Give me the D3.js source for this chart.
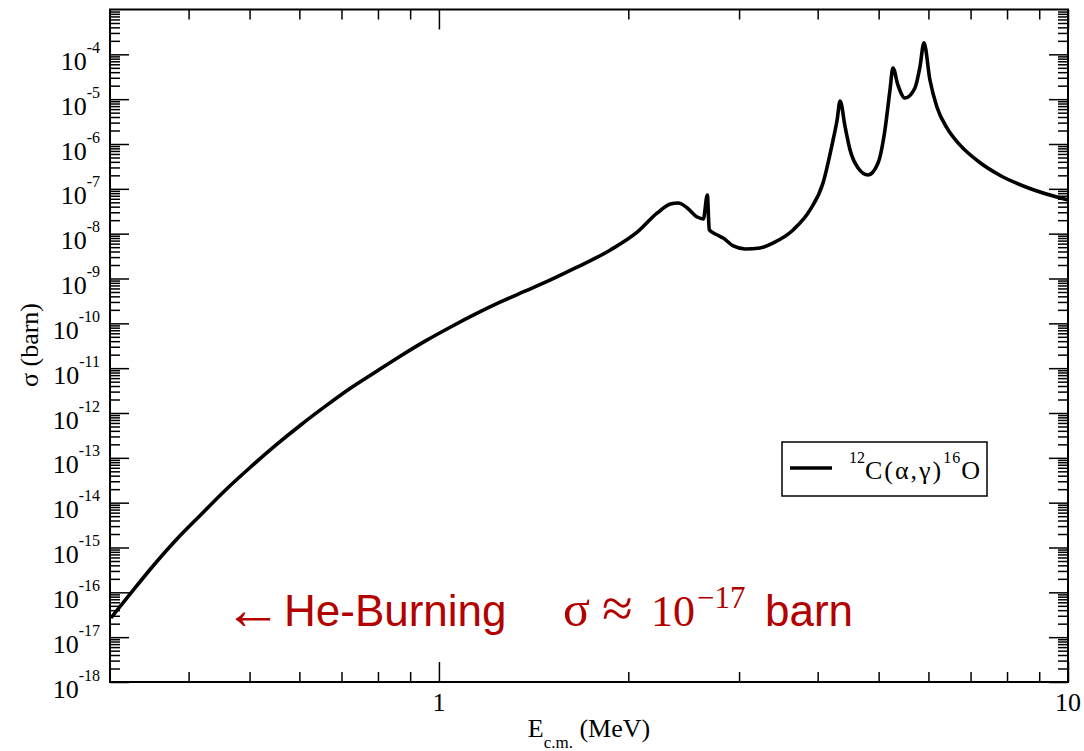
<!DOCTYPE html>
<html>
<head>
<meta charset="utf-8">
<script src="https://cdn.jsdelivr.net/npm/d3@7"></script>
<style>
  html, body { margin: 0; padding: 0; background: #fff; }
  svg { display: block; }
  text { font-family: "Liberation Serif", "Times New Roman", serif; }
</style>
</head>
<body>
<svg id="chart" width="1084" height="751"></svg>
<script>
// ---------- data ----------
const energy = [0.301, 0.324, 0.349, 0.382, 0.418, 0.458, 0.502, 0.551, 0.603, 0.661,
  0.724, 0.793, 0.869, 0.952, 1.044, 1.144, 1.253, 1.373, 1.504, 1.648,
  1.873, 2.068, 2.224, 2.333, 2.402, 2.482, 2.574, 2.632, 2.671, 2.690,
  2.770, 2.830, 2.937, 3.068, 3.240, 3.400, 3.656, 3.890, 4.079, 4.232,
  4.295, 4.342, 4.423, 4.504, 4.638, 4.810, 4.989, 5.117, 5.212, 5.269,
  5.366, 5.505, 5.711, 5.816, 5.902, 6.033, 6.189, 6.420, 6.731, 7.241,
  7.791, 8.695, 10.0];
const sigma = [2.68e-17, 9.7e-17, 3.49e-16, 1.47e-15, 5.31e-15, 1.92e-14, 6.25e-14, 1.94e-13, 5.41e-13, 1.44e-12,
  3.61e-12, 8.22e-12, 1.87e-11, 4.05e-11, 8.30e-11, 1.62e-10, 3.00e-10, 5.27e-10, 9.27e-10, 1.72e-9,
  4.32e-9, 1.09e-8, 2.90e-8, 4.60e-8, 4.84e-8, 3.74e-8, 2.35e-8, 2.13e-8, 7.29e-8, 1.21e-8,
  9.35e-9, 8.02e-9, 5.32e-9, 4.56e-9, 4.80e-9, 6.21e-9, 1.21e-8, 3.38e-8, 1.35e-7, 1.23e-6,
  3.43e-6, 9.12e-6, 2.40e-6, 7.36e-7, 2.92e-7, 2.04e-7, 3.78e-7, 2.06e-6, 1.60e-5, 4.97e-5,
  2.07e-5, 1.06e-5, 1.78e-5, 5.22e-5, 1.80e-4, 2.68e-5, 6.70e-6, 2.28e-6, 9.54e-7, 3.87e-7,
  2.01e-7, 1.02e-7, 5.65e-8];

const xDomain = [0.3, 10];
const yDomain = [1e-18, 1e-3];
const xMajorTicks = [1, 10];
const xMajorLabels = ["1", "10"];
const xMinorTicks = [0.4, 0.5, 0.6, 0.7, 0.8, 0.9, 2, 3, 4, 5, 6, 7, 8, 9];
const yExponents = [-18, -17, -16, -15, -14, -13, -12, -11, -10, -9, -8, -7, -6, -5, -4];
const yMinorMantissas = [2, 3, 4, 5, 6, 7, 8, 9];
const yMinorDecades = [-18, -17, -16, -15, -14, -13, -12, -11, -10, -9, -8, -7, -6, -5, -4];
const legendLabel = { pre: "12", main: "C(α,γ)", pre2: "16", end: "O" };

// ---------- layout ----------
const L = 110, R = 1068, T = 9.5, B = 682;
const svg = d3.select("#chart");
const x = d3.scaleLog().domain(xDomain).range([L, R]);
const y = d3.scaleLog().domain(yDomain).range([B, T]);

const yMajorVals = yExponents.map(p => Math.pow(10, p));
const yMinorVals = [];
yMinorDecades.forEach(p => yMinorMantissas.forEach(m => yMinorVals.push(m * Math.pow(10, p))));

function styleAxis(g) {
  g.select(".domain").remove();
  g.selectAll(".tick line").attr("stroke", "#000").attr("stroke-width", 1.5);
  g.selectAll(".tick text").remove();
}

// bottom / top
svg.append("g").attr("transform", `translate(0,${B})`)
  .call(d3.axisBottom(x).tickValues(xMajorTicks).tickSize(-20).tickFormat("")).call(styleAxis);
svg.append("g").attr("transform", `translate(0,${B})`)
  .call(d3.axisBottom(x).tickValues(xMinorTicks).tickSize(-10).tickFormat("")).call(styleAxis);
svg.append("g").attr("transform", `translate(0,${T})`)
  .call(d3.axisTop(x).tickValues(xMajorTicks).tickSize(-20).tickFormat("")).call(styleAxis);
svg.append("g").attr("transform", `translate(0,${T})`)
  .call(d3.axisTop(x).tickValues(xMinorTicks).tickSize(-10).tickFormat("")).call(styleAxis);
// left / right
svg.append("g").attr("transform", `translate(${L},0)`)
  .call(d3.axisLeft(y).tickValues(yMajorVals).tickSize(-19).tickFormat("")).call(styleAxis);
svg.append("g").attr("transform", `translate(${L},0)`)
  .call(d3.axisLeft(y).tickValues(yMinorVals).tickSize(-10).tickFormat("")).call(styleAxis);
svg.append("g").attr("transform", `translate(${R},0)`)
  .call(d3.axisRight(y).tickValues(yMajorVals).tickSize(-19).tickFormat("")).call(styleAxis);
svg.append("g").attr("transform", `translate(${R},0)`)
  .call(d3.axisRight(y).tickValues(yMinorVals).tickSize(-10).tickFormat("")).call(styleAxis);

// frame
svg.append("rect").attr("x", L).attr("y", T).attr("width", R - L).attr("height", B - T)
  .attr("fill", "none").attr("stroke", "#000").attr("stroke-width", 2);

// y tick labels
yExponents.forEach((p, i) => {
  const t = svg.append("text").attr("x", 100).attr("y", y(yMajorVals[i]) + 15.5)
    .attr("text-anchor", "end").attr("font-size", 26).attr("fill", "#000");
  t.append("tspan").text("10");
  t.append("tspan").attr("font-size", 16).attr("dy", -17).text("-" + Math.abs(p));
});
// x tick labels
xMajorTicks.forEach((v, i) => {
  svg.append("text").attr("x", x(v)).attr("y", 711).attr("text-anchor", "middle")
    .attr("font-size", 26).text(xMajorLabels[i]);
});

// axis titles
const xt = svg.append("text").attr("x", 589).attr("y", 737).attr("text-anchor", "middle").attr("font-size", 26);
xt.append("tspan").text("E");
xt.append("tspan").attr("font-size", 17).attr("dy", 11).text("c.m.");
xt.append("tspan").attr("dy", -11).text(" (MeV)");
svg.append("text").attr("transform", `translate(38,345) rotate(-90)`).attr("text-anchor", "middle")
  .attr("font-size", 26).text("σ (barn)");

// curve
svg.append("clipPath").attr("id", "clip").append("rect")
  .attr("x", L).attr("y", T).attr("width", R - L).attr("height", B - T);
const pts = energy.map((e, i) => [e, sigma[i]]);
const line = d3.line().x(d => x(d[0])).y(d => y(d[1])).curve(d3.curveMonotoneX);
svg.append("path").datum(pts).attr("d", line).attr("fill", "none")
  .attr("stroke", "#000").attr("stroke-width", 3.6).attr("stroke-linejoin", "round")
  .attr("clip-path", "url(#clip)");

// legend
svg.append("rect").attr("x", 782).attr("y", 442).attr("width", 205).attr("height", 54)
  .attr("fill", "#fff").attr("stroke", "#000").attr("stroke-width", 1.5);
svg.append("line").attr("x1", 790).attr("x2", 832).attr("y1", 468).attr("y2", 468)
  .attr("stroke", "#000").attr("stroke-width", 3.5);
const lt = svg.append("text").attr("x", 849).attr("y", 479).attr("font-size", 26);
lt.append("tspan").attr("font-size", 16).attr("dy", -16).text(legendLabel.pre);
lt.append("tspan").attr("dy", 16).attr("letter-spacing", 2).text(legendLabel.main);
lt.append("tspan").attr("font-size", 16).attr("dy", -16).attr("letter-spacing", 1).text(legendLabel.pre2);
lt.append("tspan").attr("dy", 16).text(legendLabel.end);

// annotation
const red = "#b30000";
svg.append("text").attr("x", 224).attr("y", 629).attr("font-size", 58).attr("fill", red).text("←");
svg.append("text").attr("x", 284).attr("y", 626).attr("font-size", 44).attr("fill", red)
  .style("font-family", "'Liberation Sans', Arial, sans-serif").text("He-Burning");
svg.append("text").attr("x", 563).attr("y", 626).attr("font-size", 50).attr("fill", red).text("σ");
svg.append("text").attr("x", 602).attr("y", 627).attr("font-size", 56).attr("fill", red).text("≈");
svg.append("text").attr("x", 651).attr("y", 626).attr("font-size", 44).attr("fill", red).text("10");
svg.append("text").attr("x", 697).attr("y", 608).attr("font-size", 31).attr("fill", red).text("−17");
svg.append("text").attr("x", 765).attr("y", 626).attr("font-size", 44).attr("fill", red)
  .style("font-family", "'Liberation Sans', Arial, sans-serif").text("barn");
</script>
</body>
</html>
